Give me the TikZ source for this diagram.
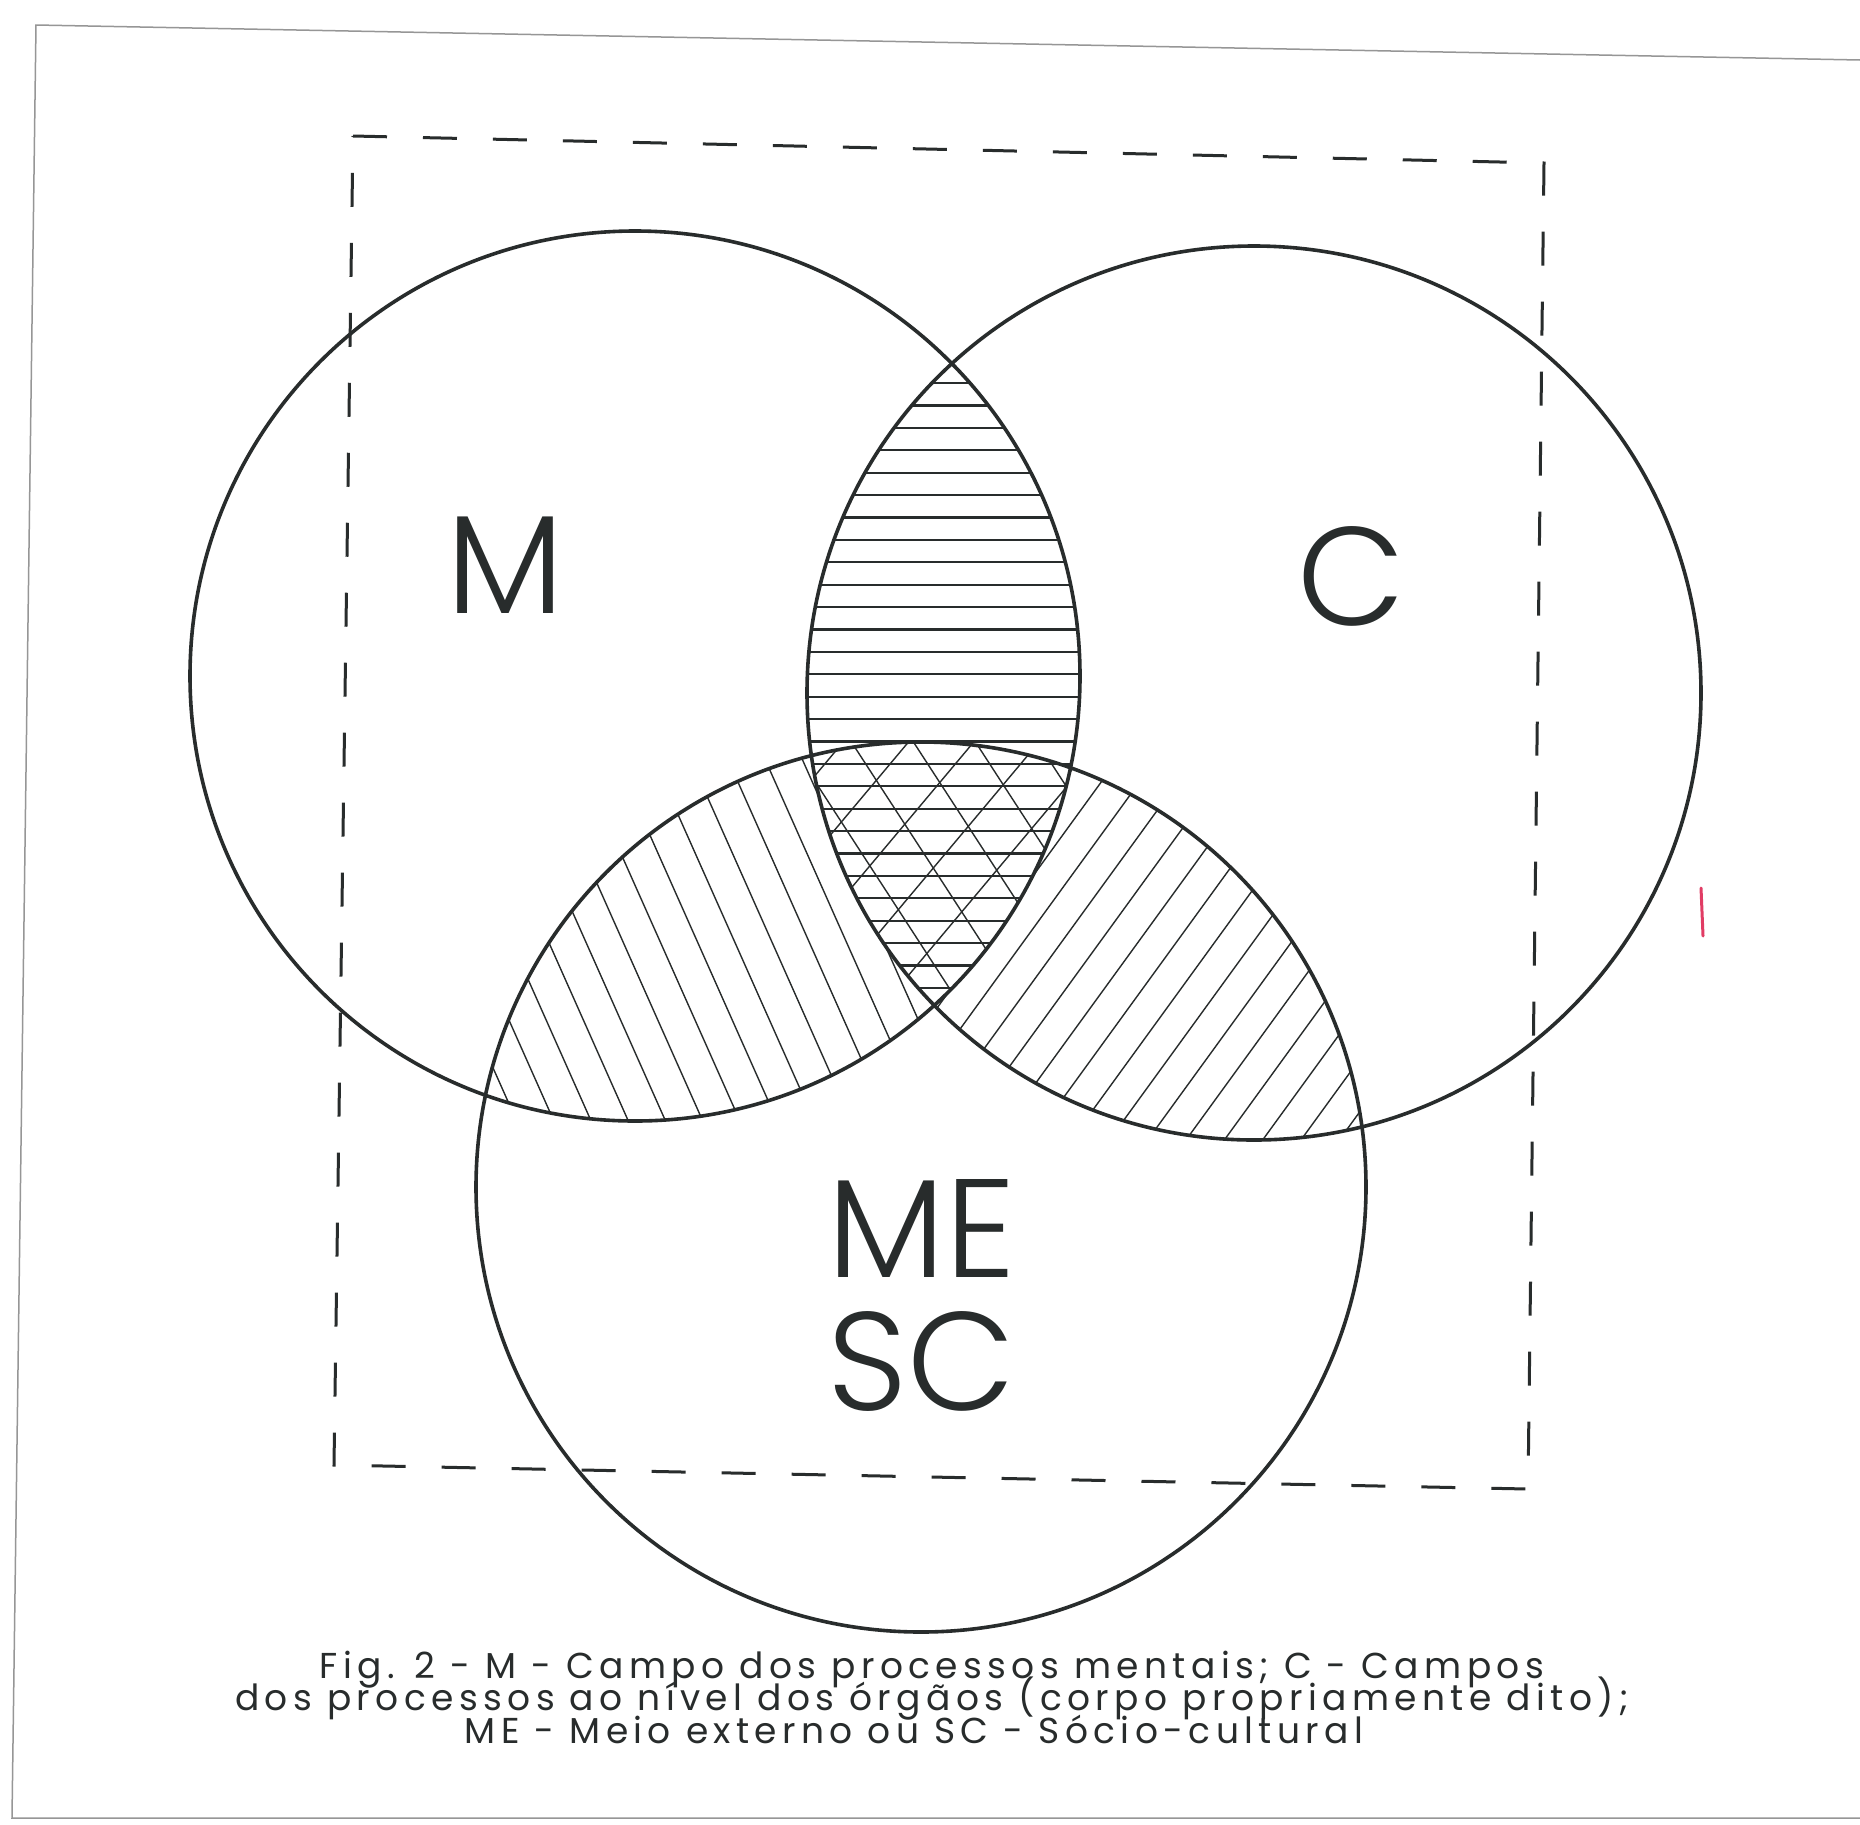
\documentclass[tikz,border=0pt]{standalone}
\usepackage{fontspec}
\setmainfont{Poppins}[UprightFont={* Light}]
\newfontfamily\capfont{Poppins}[LetterSpace=15]
\newcommand\capsetup{\capfont\fontsize{36}{32.5}\selectfont\lineskiplimit=-100pt\relax\lineskip=0pt\relax}
\definecolor{ink}{RGB}{40,44,44}
\definecolor{framegray}{RGB}{150,150,150}
\definecolor{redmark}{RGB}{225,60,100}
\begin{document}
\begin{tikzpicture}[x=1pt,y=-1pt,
  circ/.style={draw=ink,line width=3.6pt},
  hatch/.style={draw=ink,line width=2.2pt},
  thinhatch/.style={draw=ink,line width=1.4pt},
  boxdash/.style={draw=ink,line width=3pt,dash pattern=on 34pt off 36pt},
  biglabel/.style={font=\fontsize{140}{140}\selectfont,text=ink,inner sep=0pt},
  captext/.style={font=\capsetup,text=ink,inner sep=0pt,align=center}]
\useasboundingbox (0,0) rectangle (1860,1824);
\fill[white] (0,0) rectangle (1860,1824);
% outer scan frame
\draw[framegray,line width=1.5pt] (1860,60) -- (36,25) -- (12,1818) -- (1860,1818);
% centres
\coordinate (cM) at (635,676);
\coordinate (cC) at (1254,693);
\coordinate (cE) at (921,1187);
% M cap C lens: horizontal lines
\begin{scope}
  \clip (cM) circle[radius=445];
  \clip (cC) circle[radius=447];
  \foreach \i in {0,...,30} \draw[hatch] (700,383+22.4*\i) -- (1200,383+22.4*\i);
\end{scope}
% triple region: crosshatch
\begin{scope}
  \clip (cM) circle[radius=445];
  \clip (cC) circle[radius=447];
  \clip (cE) circle[radius=445];
  \begin{scope}[shift={(940,860)},rotate=50]
    \foreach \k in {-7,...,7} \draw[thinhatch] (-400,\k*50) -- (400,\k*50);
  \end{scope}
  \begin{scope}[shift={(940,860)},rotate=-57]
    \foreach \k in {-7,...,7} \draw[thinhatch] (-400,\k*52+10) -- (400,\k*52+10);
  \end{scope}
\end{scope}
% M cap ME minus C
\begin{scope}[even odd rule]
  \clip (cM) circle[radius=445];
  \clip (cE) circle[radius=445];
  \clip (0,0) rectangle (1860,1824) (cC) circle[radius=447];
  \begin{scope}[shift={(640,980)},rotate=-66]
    \foreach \k in {-14,...,14} \draw[thinhatch] (-500,\k*34) -- (500,\k*34);
  \end{scope}
\end{scope}
% C cap ME minus M
\begin{scope}[even odd rule]
  \clip (cC) circle[radius=447];
  \clip (cE) circle[radius=445];
  \clip (0,0) rectangle (1860,1824) (cM) circle[radius=445];
  \begin{scope}[shift={(1180,990)},rotate=54]
    \foreach \k in {-16,...,16} \draw[thinhatch] (-500,\k*31) -- (500,\k*31);
  \end{scope}
\end{scope}
% circles
\draw[circ] (cM) circle[radius=445];
\draw[circ] (cC) circle[radius=447];
\draw[circ] (cE) circle[radius=445];
% dashed frame
\draw[boxdash] (353,136) -- (1544,163) -- (1528,1489) -- (334,1465) -- cycle;
% labels
\node[biglabel,anchor=base] (lM) at (505,613) {M};
\node[biglabel,anchor=base] (lC) at (1351,625) {C};
\node[biglabel,anchor=base] (lME) at (922,1277) {ME};
\node[biglabel,anchor=base] (lSC) at (921,1410) {SC};
% caption
\node[captext] (cap) at (932,1697) {Fig. 2 - M - Campo dos processos mentais; C - Campos\\
dos processos ao nível dos órgãos (corpo propriamente dito);\\
ME - Meio externo ou SC - Sócio-cultural\hspace*{36pt}};
% red scan mark
\draw[redmark,line width=3pt,line cap=round] (1701,888) -- (1703,936);
\end{tikzpicture}
\end{document}
